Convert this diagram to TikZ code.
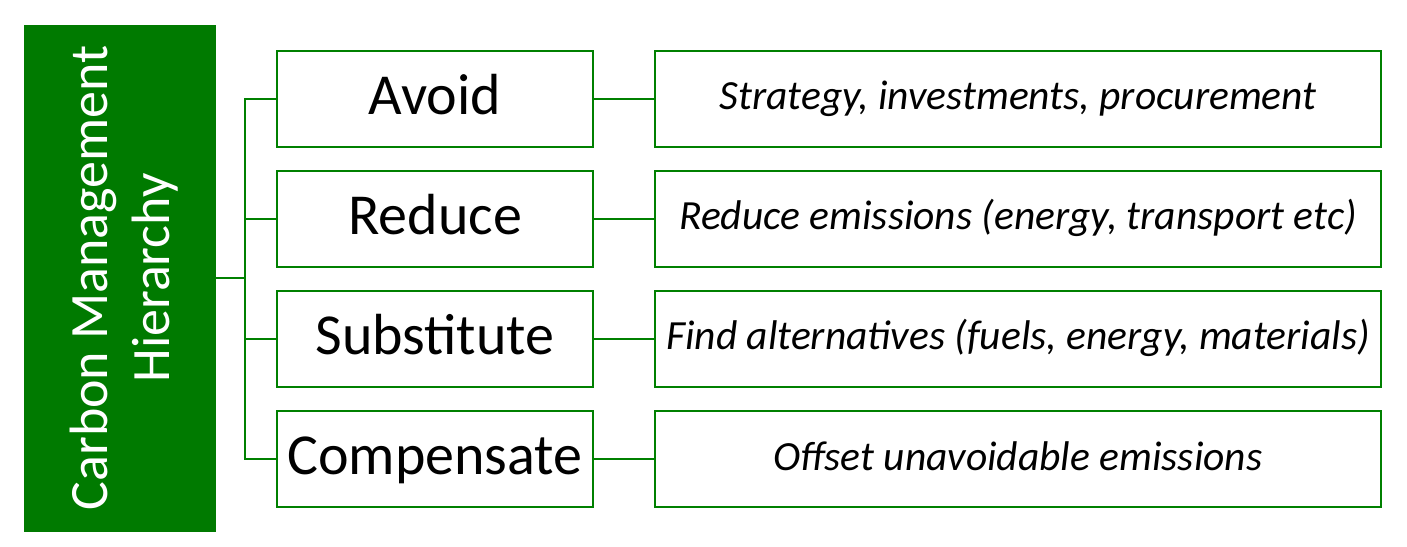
\documentclass[tikz,border=0pt]{standalone}
\usepackage{fontspec}
\setmainfont{Carlito}
\definecolor{cline}{RGB}{0,128,0}
\definecolor{cfill}{RGB}{0,122,0}
\begin{document}
\begin{tikzpicture}[x=1pt,y=1pt,
  mbox/.style={draw=cline, line width=2.6pt, minimum width=316pt, minimum height=96pt, inner sep=0pt, text height=32pt, text depth=0pt, font=\fontsize{58}{64}\selectfont},
  dbox/.style={draw=cline, line width=2.6pt, minimum width=726pt, minimum height=96pt, inner sep=0pt, text height=22pt, text depth=0pt, font=\fontsize{41.5}{48}\selectfont\itshape},
  conn/.style={draw=cline, line width=2pt, line cap=rect}]
\useasboundingbox (0,0) rectangle (1407,546);
\node[fill=cfill, minimum width=192pt, minimum height=507pt, inner sep=0pt] (g) at (120,267.5) {};
\node[rotate=90, text=white, align=center, inner sep=0pt, font=\fontsize{54}{62}\selectfont] (gt) at (124,268) {Carbon Management\\Hierarchy};
\node[mbox] (a) at (435,447) {Avoid};
\node[mbox] (r) at (435,327) {Reduce};
\node[mbox] (s) at (435,207) {Substitute};
\node[mbox] (c) at (435,87) {Compensate};
\node[dbox] (da) at (1018,447) {Strategy, investments, procurement};
\node[dbox] (dr) at (1018,327) {Reduce emissions (energy, transport etc)};
\node[dbox] (ds) at (1018,207) {Find alternatives (fuels, energy, materials)};
\node[dbox] (dc) at (1018,87) {Offset unavoidable emissions};
\coordinate (t1) at (245,447);
\coordinate (t4) at (245,87);
\draw[conn] (t1) -- (t4);
\draw[conn] (g.east) -- (g.east -| t1);
\draw[conn] (t1) -- (a.west);
\draw[conn] (t1 |- r.west) -- (r.west);
\draw[conn] (t1 |- s.west) -- (s.west);
\draw[conn] (t4) -- (c.west);
\draw[conn] (a.east) -- (da.west);
\draw[conn] (r.east) -- (dr.west);
\draw[conn] (s.east) -- (ds.west);
\draw[conn] (c.east) -- (dc.west);
\end{tikzpicture}
\end{document}
